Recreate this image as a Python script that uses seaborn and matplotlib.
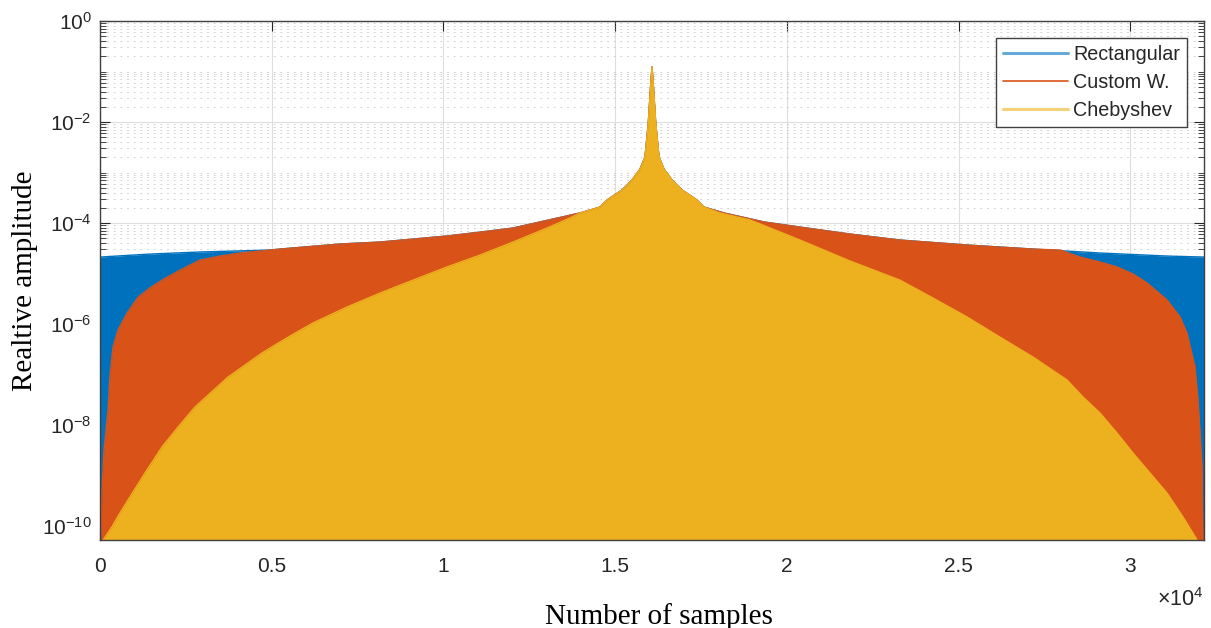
import numpy as np
import pandas as pd
import matplotlib
matplotlib.use("Agg")
import matplotlib.pyplot as plt
import seaborn as sns
from matplotlib.lines import Line2D
from matplotlib.ticker import FixedLocator, LogLocator, NullFormatter, NullLocator

# Spectrum envelopes of three windows (sample index, relative amplitude)
rect_samples = [0, 1456, 2912, 4950, 5242, 6989, 8154, 10105, 11066, 12027, 12813,
                13977, 14560, 14764, 15200, 15492, 15725, 15870, 15966, 16045, 16074,
                16103, 16182, 16278, 16423, 16656, 16948, 17384, 17588, 18171, 19335,
                20384, 21840, 23296, 25247, 27169, 29120, 31071, 32148]
rect_amp = [2.12e-5, 2.43e-5, 2.67e-5, 2.92e-5, 3.05e-5, 3.84e-5, 4.2e-5, 5.53e-5, 6.6e-5,
            7.96e-5, 1.05e-4, 1.58e-4, 2.07e-4, 2.85e-4, 4.5e-4, 7.1e-4, 1.17e-3, 2.03e-3,
            9.5e-3, 6.79e-2, 0.123, 6.79e-2, 9.5e-3, 2.03e-3, 1.17e-3, 7.1e-4, 4.5e-4,
            2.85e-4, 2.07e-4, 1.58e-4, 1.05e-4, 8.3e-5, 6.05e-5, 4.6e-5, 3.67e-5, 3.05e-5,
            2.55e-5, 2.22e-5, 2.12e-5]

custom_samples = [0, 29, 58, 116, 175, 233, 291, 379, 524, 786, 1107, 1456, 1805, 2330,
                  2912, 3494, 4077, 4950, 5242, 6989, 8154, 10105, 11066, 12027, 12813,
                  13977, 14560, 14764, 15200, 15492, 15725, 15870, 15966, 16045, 16074,
                  16103, 16182, 16278, 16423, 16656, 16948, 17384, 17588, 18171, 19335,
                  20384, 21840, 23296, 25247, 27169, 27955, 28538, 29120, 29615, 30081,
                  30489, 31071, 31450, 31653, 31886, 31974, 32032, 32090, 32119, 32148]
custom_amp = [1e-12, 6.6e-11, 5.2e-10, 3.2e-9, 8.0e-9, 1.98e-8, 9.8e-8, 3.5e-7, 7.6e-7,
              1.65e-6, 3.4e-6, 5.2e-6, 7.4e-6, 1.17e-5, 1.85e-5, 2.22e-5, 2.55e-5, 2.92e-5,
              3.05e-5, 3.84e-5, 4.2e-5, 5.53e-5, 6.6e-5, 7.96e-5, 1.05e-4, 1.58e-4, 2.07e-4,
              2.85e-4, 4.5e-4, 7.1e-4, 1.17e-3, 2.03e-3, 9.5e-3, 6.79e-2, 0.123, 6.79e-2,
              9.5e-3, 2.03e-3, 1.17e-3, 7.1e-4, 4.5e-4, 2.85e-4, 2.07e-4, 1.58e-4, 1.05e-4,
              8.3e-5, 6.05e-5, 4.6e-5, 3.67e-5, 3.05e-5, 2.92e-5, 2.12e-5, 1.69e-5, 1.35e-5,
              9.8e-6, 6.5e-6, 3.0e-6, 1.38e-6, 6.6e-7, 1.41e-7, 3.1e-8, 6.95e-9, 1.47e-9,
              5.3e-11, 1e-12]

cheb_samples = [0, 96, 341, 582, 815, 1310, 1805, 2271, 2766, 3727, 4717, 5242, 5678,
                6203, 7193, 8154, 9115, 10105, 11066, 12027, 13017, 13686, 13977, 14560,
                14764, 15200, 15492, 15725, 15870, 15966, 16045, 16074, 16103, 16182,
                16278, 16423, 16656, 16948, 17384, 17588, 18054, 18928, 20384, 21840,
                23296, 24257, 25247, 26208, 27169, 28159, 28625, 29120, 29615, 30081,
                30576, 31071, 31537, 31945, 32148]
cheb_amp = [1e-12, 5.3e-11, 9.5e-11, 1.81e-10, 3.27e-10, 1.12e-9, 3.67e-9, 9.1e-9, 2.27e-8,
            8.9e-8, 2.67e-7, 4.4e-7, 6.6e-7, 1.05e-6, 2.17e-6, 4.1e-6, 7.4e-6, 1.35e-5,
            2.32e-5, 4.2e-5, 7.96e-5, 1.26e-4, 1.58e-4, 2.07e-4, 2.85e-4, 4.5e-4, 7.1e-4,
            1.17e-3, 2.03e-3, 9.5e-3, 6.79e-2, 0.123, 6.79e-2, 9.5e-3, 2.03e-3, 1.17e-3,
            7.1e-4, 4.5e-4, 2.85e-4, 2.07e-4, 1.58e-4, 1.15e-4, 4.6e-5, 1.77e-5, 7.4e-6,
            3.27e-6, 1.38e-6, 5.5e-7, 2.22e-7, 7.8e-8, 3.6e-8, 1.73e-8, 6.95e-9, 2.79e-9,
            1.12e-9, 4.5e-10, 1.51e-10, 5.3e-11, 1e-12]

window_names = ["Rectangular", "Custom W.", "Chebyshev"]
window_colors = ["#0072BD", "#D95319", "#EDB120"]

xtick_values = [0, 5000, 10000, 15000, 20000, 25000, 30000]
xtick_labels = ["0", "0.5", "1", "1.5", "2", "2.5", "3"]
ytick_exponents = [0, -2, -4, -6, -8, -10]

x_max = 32148
y_min, y_max = 5.3e-11, 1.0
floor = 1e-13

frames = []
for name, xs, ys in zip(window_names,
                        [rect_samples, custom_samples, cheb_samples],
                        [rect_amp, custom_amp, cheb_amp]):
    frames.append(pd.DataFrame({"sample": xs, "amplitude": ys, "window": name}))
df = pd.concat(frames, ignore_index=True)

sns.set_theme(style="white")
plt.rcParams["font.family"] = ["Liberation Sans", "DejaVu Sans"]
plt.rcParams["mathtext.fontset"] = "custom"
plt.rcParams["mathtext.rm"] = "Liberation Sans"
plt.rcParams["mathtext.it"] = "Liberation Sans:italic"

fig = plt.figure(figsize=(12.11, 6.28), dpi=100)
ax = fig.add_axes([100 / 1211, 1 - 540 / 628, 1104 / 1211, 519 / 628])
ax.set_yscale("log")

# Filled envelopes, drawn back to front
for i, (name, color) in enumerate(zip(window_names, window_colors)):
    sub = df[df["window"] == name]
    ax.fill_between(sub["sample"], floor, sub["amplitude"], color=color,
                    linewidth=0, zorder=1 + i)
    sns.lineplot(data=sub, x="sample", y="amplitude", color=color, linewidth=1.0,
                 estimator=None, sort=False, ax=ax, zorder=1.5 + i)

ax.set_xlim(0, x_max)
ax.set_ylim(y_min, y_max)

ax.xaxis.set_major_locator(FixedLocator(xtick_values))
ax.set_xticklabels(xtick_labels)
ax.xaxis.set_minor_locator(NullLocator())
ax.yaxis.set_major_locator(FixedLocator([10.0 ** e for e in ytick_exponents]))
ax.yaxis.set_minor_locator(LogLocator(base=10, subs=np.arange(1, 10), numticks=200))
ax.yaxis.set_minor_formatter(NullFormatter())

ax.set_axisbelow(True)
ax.grid(True, which="major", color="#dedede", linewidth=0.8, linestyle="-")
ax.yaxis.grid(True, which="minor", color="#c8c8c8", linewidth=0.6,
              linestyle=(0, (2, 6)))

ax.tick_params(which="both", direction="in", top=True, right=True, bottom=True,
               left=True, color="#262626", labelcolor="#262626")
ax.tick_params(which="major", length=7.5, width=0.8, labelsize=15)
ax.tick_params(which="minor", length=4, width=0.6)
ax.tick_params(axis="x", pad=12)
ax.tick_params(axis="y", pad=6)

for spine in ax.spines.values():
    spine.set_color("#404040")
    spine.set_linewidth(1.0)
    spine.set_zorder(10)

ax.set_xlabel("Number of samples", fontsize=21, fontfamily="Liberation Serif",
              color="black")
ax.xaxis.set_label_coords(0.5063, -0.121)
ax.set_ylabel("Realtive amplitude", fontsize=21, fontfamily="Liberation Serif",
              color="black")
ax.yaxis.set_label_coords(-0.0562, 0.5)

ax.text(1.0, -0.1156, r"$\times\mathdefault{10^{4}}$", transform=ax.transAxes,
        ha="right", va="center", fontsize=15.5, color="#262626")

handles = [
    Line2D([], [], color=window_colors[0], linewidth=2.2, alpha=0.6),
    Line2D([], [], color=window_colors[1], linewidth=1.2),
    Line2D([], [], color=window_colors[2], linewidth=2.2, alpha=0.6),
]
leg = ax.legend(handles, window_names, loc="upper right",
                bbox_to_anchor=(0.9846, 0.967), borderaxespad=0, fontsize=14.2,
                frameon=True, fancybox=False, framealpha=1, edgecolor="#404040",
                handlelength=3.3, handletextpad=0.25, labelspacing=0.45,
                borderpad=0.35)
leg.get_frame().set_linewidth(1.0)
for t in leg.get_texts():
    t.set_color("#262626")

fig.savefig("out.png", dpi=100)
